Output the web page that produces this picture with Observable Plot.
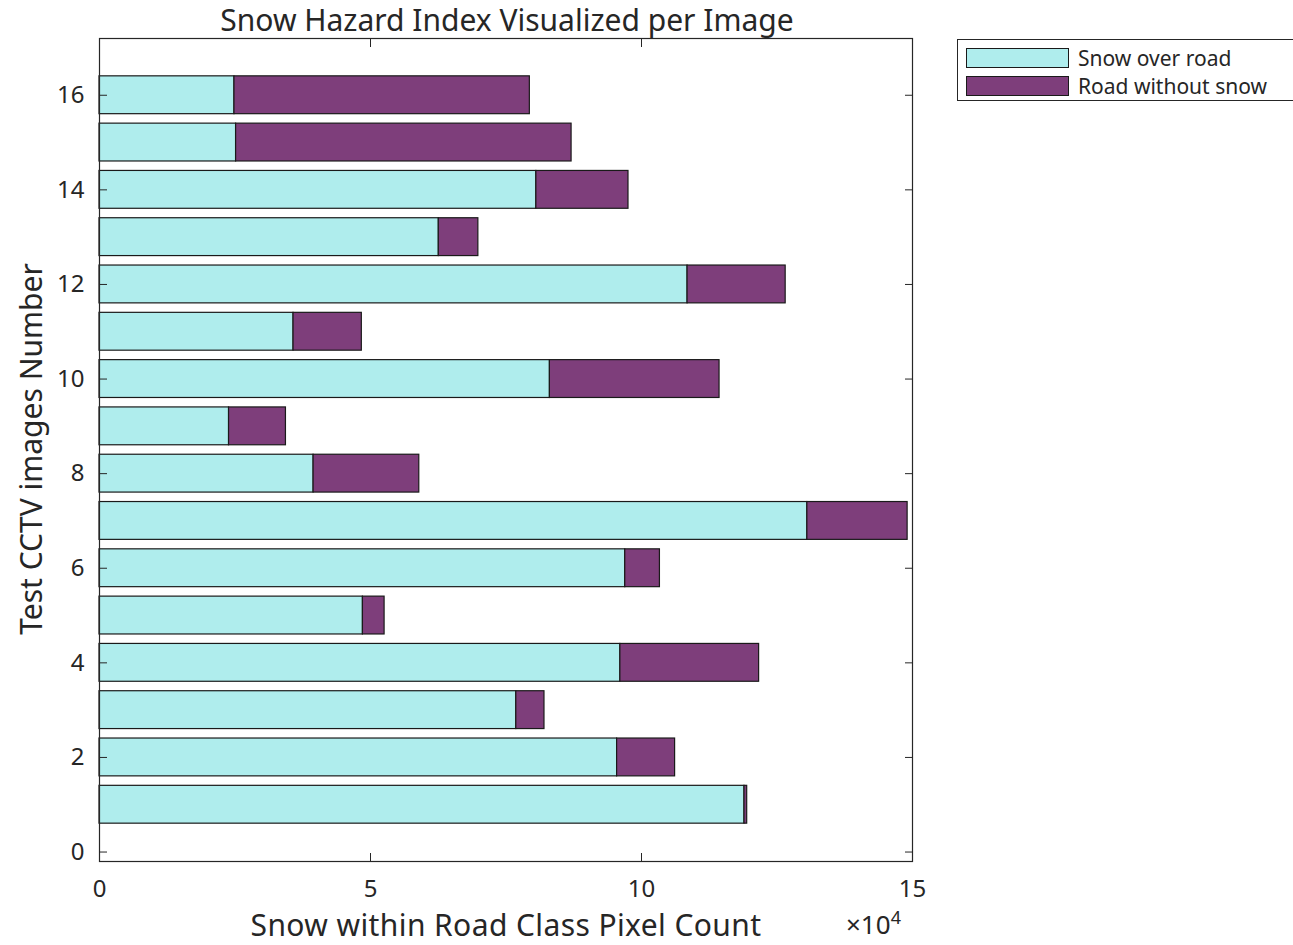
<!DOCTYPE html>
<html>
<head>
<meta charset="utf-8">
<script src="https://cdn.jsdelivr.net/npm/d3@7"></script>
<script src="https://cdn.jsdelivr.net/npm/@observablehq/plot@0.6"></script>
<style>
  html, body { margin: 0; padding: 0; background: #fff; overflow: hidden; }
  #wrap { position: relative; width: 1293px; height: 945px; overflow: hidden; font-family: "Noto Sans", sans-serif; color: #262626; }
  #chart { position: absolute; left: 0; top: 0; }
  .lbl { position: absolute; white-space: nowrap; }
  #title { left: 507px; top: 5px; font-size: 30px; line-height: 30px; transform: translateX(-50%); }
  #xlabel { left: 506px; top: 913px; font-size: 30px; line-height: 24px; letter-spacing: 0.4px; transform: translateX(-50%); }
  #ylabel { left: 31px; top: 449px; font-size: 30px; line-height: 30px; transform: translate(-50%, -50%) rotate(-90deg); }
  #exp { left: 846px; top: 914px; font-size: 26px; line-height: 20px; }
  #exp sup { font-size: 18px; vertical-align: 10px; line-height: 0; }
  #legend { position: absolute; left: 957px; top: 39px; width: 400px; height: 62px; border: 1px solid #262626; box-sizing: border-box; background: #fff; }
  .lrow { position: absolute; left: 8px; height: 20px; display: flex; align-items: center; white-space: nowrap; font-size: 21px; line-height: 20px; }
  .sw { width: 101px; height: 18px; border: 1px solid #1a1a1a; margin-right: 9px; flex: none; }
</style>
</head>
<body>
<div id="wrap">
  <div id="chart"></div>
  <div id="title" class="lbl">Snow Hazard Index Visualized per Image</div>
  <div id="xlabel" class="lbl">Snow within Road Class Pixel Count</div>
  <div id="ylabel" class="lbl">Test CCTV images Number</div>
  <div id="exp" class="lbl">×10<sup>4</sup></div>
  <div id="legend"></div>
</div>
<script>
// Data (pixel counts), image numbers 1..16
const images = [1, 2, 3, 4, 5, 6, 7, 8, 9, 10, 11, 12, 13, 14, 15, 16];
const snowOverRoad = [119000, 95500, 76900, 96100, 48600, 97000, 130600, 39500, 23900, 83100, 35800, 108500, 62600, 80600, 25200, 24900];
const roadWithoutSnow = [500, 10700, 5200, 25600, 4000, 6400, 18500, 19500, 10500, 31300, 12600, 18100, 7300, 17000, 61900, 54500];
const seriesNames = ["Snow over road", "Road without snow"];
const seriesColors = ["#AFEDED", "#7E3E7B"];
const xTicks = [0, 50000, 100000, 150000];
const yTicks = [0, 2, 4, 6, 8, 10, 12, 14, 16];

const barWidth = 0.8;
const rows = images.map((img, i) => ({
  image: img,
  snow: snowOverRoad[i],
  road: roadWithoutSnow[i]
}));

const ink = "#262626";
const chart = Plot.plot({
  width: 1293,
  height: 945,
  marginLeft: 99,
  marginRight: 381,
  marginTop: 38,
  marginBottom: 84,
  style: { fontFamily: "Noto Sans, sans-serif", fontSize: "24px", color: ink, background: "transparent" },
  x: { domain: [0, 150000] },
  y: { domain: [-0.2, 17.2] },
  marks: [
    Plot.rectX(rows, {
      x1: 0, x2: d => d.snow,
      y1: d => d.image - barWidth / 2, y2: d => d.image + barWidth / 2,
      fill: seriesColors[0], stroke: "#1a1a1a", strokeWidth: 1.2
    }),
    Plot.rectX(rows, {
      x1: d => d.snow, x2: d => d.snow + d.road,
      y1: d => d.image - barWidth / 2, y2: d => d.image + barWidth / 2,
      fill: seriesColors[1], stroke: "#1a1a1a", strokeWidth: 1.2
    }),
    Plot.frame({ stroke: ink, strokeWidth: 1.2 }),
    Plot.axisX(xTicks, {
      anchor: "bottom", tickSize: -8, tickPadding: 26,
      tickFormat: d => String(d / 10000), fontSize: 24, stroke: ink, fill: ink, label: null
    }),
    Plot.axisX(xTicks, { anchor: "top", tickSize: -8, tickFormat: () => "", label: null, stroke: ink }),
    Plot.axisY(yTicks, {
      anchor: "left", tickSize: -8, tickPadding: 23, fontSize: 24, stroke: ink, fill: ink, label: null
    }),
    Plot.axisY(yTicks, { anchor: "right", tickSize: -8, tickFormat: () => "", label: null, stroke: ink })
  ]
});
document.getElementById("chart").appendChild(chart);

// Legend
const legend = document.getElementById("legend");
seriesNames.forEach((name, i) => {
  const row = document.createElement("div");
  row.className = "lrow";
  row.style.top = (8 + i * 28) + "px";
  const sw = document.createElement("div");
  sw.className = "sw";
  sw.style.background = seriesColors[i];
  const t = document.createElement("span");
  t.textContent = name;
  row.appendChild(sw);
  row.appendChild(t);
  legend.appendChild(row);
});
</script>
</body>
</html>
